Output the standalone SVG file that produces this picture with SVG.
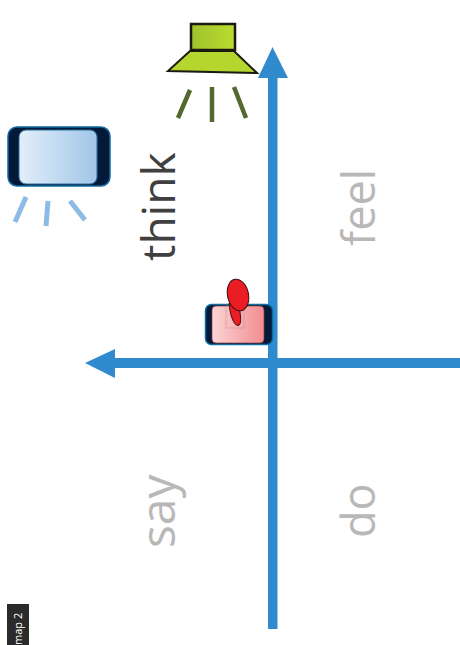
<svg xmlns="http://www.w3.org/2000/svg" width="460" height="645" viewBox="0 0 460 645">
<defs>
<linearGradient id="gGreen" x1="0" x2="1" y1="0" y2="0"><stop offset="0" stop-color="#9dc22c"/><stop offset="1" stop-color="#bcdc30"/></linearGradient>
<linearGradient id="gBlue" x1="0" x2="1" y1="0" y2="0"><stop offset="0" stop-color="#e2eef9"/><stop offset="1" stop-color="#a0c6e8"/></linearGradient>
<linearGradient id="gRed" x1="0" x2="1" y1="0" y2="0"><stop offset="0" stop-color="#fcd4d6"/><stop offset="1" stop-color="#f18d90"/></linearGradient>
</defs>
<style>
.lbl{font-family:"Open Sans","DejaVu Sans",sans-serif;font-size:45px}
.grey{fill:#b8b8b8}
.ax{fill:#2f8bcd}
.gr{stroke:#53692e;stroke-width:4.5;fill:none}
.bl{stroke:#8cbce6;stroke-width:5;fill:none}
.dev{fill:#02193a;stroke:#0f6da0;stroke-width:1.5}
</style>
<g id="connectors">
<path class="ax" d="M268 629V78H258L272.500 47 288 78H277.500V358H460V368H277.500V629ZM268 368H115V378L85 363 115 349V358H268Z"/>
</g>
<g id="node-green">
<rect x="191" y="24" width="44" height="26" fill="url(#gGreen)" stroke="#1a1a10" stroke-width="2.500"/>
<polygon points="190,51 234,51 257,73 168,71" fill="#b4d62e" stroke="#1a1a10" stroke-width="2"/>
<path class="gr" d="M190 90 178 118M212 87V122M234 87 246 118"/>
</g>
<g id="node-blue">
<rect x="8" y="127" width="102" height="59" rx="9" class="dev"/>
<rect x="19" y="130" width="78" height="54" rx="7" fill="url(#gBlue)" stroke="#2a6f9c" stroke-width="1"/>
<path class="bl" d="M26 197 15 222M48 201 46 226M70 201 85 220"/>
</g>
<g id="node-red">
<rect x="205.500" y="304.500" width="67" height="40" rx="6" class="dev"/>
<rect x="212" y="306" width="52" height="37" rx="4" fill="url(#gRed)" stroke="#8a3a40" stroke-width="0.700"/>
<rect x="226" y="306" width="18" height="22" fill="none" stroke="#c88" stroke-width="0.500"/>
<path d="M229 303C230 316 234 325.500 238 325.500 242 325.500 241 314 238 303Z" fill="#ec1c24" stroke="#3a1010" stroke-width="1"/>
<ellipse cx="238" cy="295" rx="10.500" ry="16" transform="rotate(-12 238 295)" fill="#ec1c24" stroke="#3a1010" stroke-width="1"/>
</g>
<g id="label-think"><text class="lbl" transform="translate(175 261) rotate(-90)" style="font-size:46px" fill="#404040">think</text></g>
<g id="label-feel"><text class="lbl grey" transform="translate(375 246) rotate(-90)">feel</text></g>
<g id="label-say"><text class="lbl grey" transform="translate(175 548) rotate(-90)" style="font-size:48px">say</text></g>
<g id="label-do"><text class="lbl grey" transform="translate(375 538) rotate(-90)">do</text></g>
<g id="tag-map">
<rect x="7" y="604" width="22" height="41" fill="#2b2b2b"/>
<text transform="translate(22 645) rotate(-90)" style="font-family:'Open Sans',sans-serif;font-size:11px" fill="#ffffff">map 2</text>
</g>
</svg>
